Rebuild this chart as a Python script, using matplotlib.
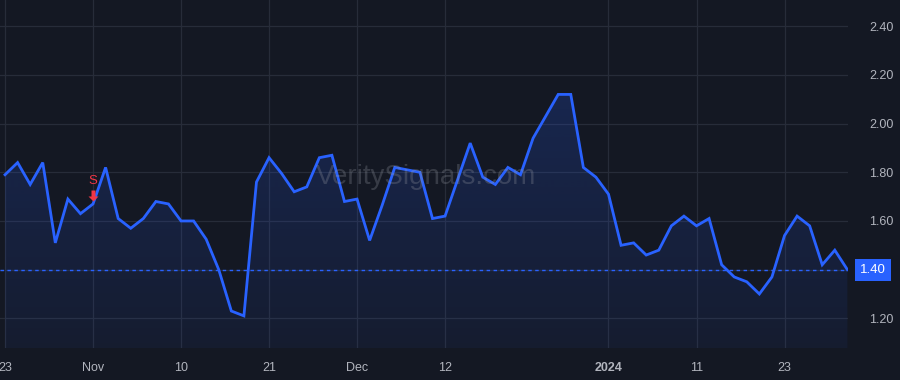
import numpy as np
import pandas as pd
import matplotlib
matplotlib.use("Agg")
import matplotlib.pyplot as plt
from matplotlib.patches import Polygon
from matplotlib.path import Path
from matplotlib import transforms

# ---- data ----
holidays = ["2023-11-23", "2023-12-25", "2024-01-01", "2024-01-15"]
dates = pd.bdate_range("2023-10-23", "2024-01-30", freq="C", holidays=holidays)

values = [1.79, 1.84, 1.75, 1.84, 1.51, 1.69, 1.63, 1.67, 1.82, 1.61,
          1.57, 1.61, 1.68, 1.67, 1.60, 1.60, 1.525, 1.40, 1.23, 1.21,
          1.76, 1.86, 1.795, 1.72, 1.74, 1.86, 1.87, 1.68, 1.69, 1.52,
          1.665, 1.82, 1.81, 1.80, 1.61, 1.62, 1.77, 1.92, 1.78, 1.75,
          1.82, 1.79, 1.94, 2.03, 2.12, 2.12, 1.82, 1.78, 1.71, 1.50,
          1.51, 1.46, 1.48, 1.58, 1.62, 1.58, 1.61, 1.42, 1.37, 1.35,
          1.30, 1.37, 1.54, 1.62, 1.58, 1.42, 1.48, 1.40]

tick_dates = ["2023-10-23", "2023-11-01", "2023-11-10", "2023-11-21", "2023-12-01",
              "2023-12-12", "2024-01-02", "2024-01-11", "2024-01-23"]
tick_labels = ["23", "Nov", "10", "21", "Dec", "12", "2024", "11", "23"]
y_ticks = [1.20, 1.40, 1.60, 1.80, 2.00, 2.20, 2.40]
last_price = 1.40
signal_date = "2023-11-01"
signal_label = "S"
watermark = "VeritySignals.com"

# ---- style ----
BG = "#141823"
GRID = "#272c39"
LINE = "#2962ff"
TXT = "#b2b5be"
RED = "#f23645"

plt.rcParams["font.family"] = ["Liberation Sans", "DejaVu Sans"]

fig = plt.figure(figsize=(9, 3.8), dpi=100, facecolor=BG)
ax = fig.add_axes([0, 32 / 380, 848 / 900, 348 / 380])
ax.set_facecolor(BG)

x = np.arange(len(values))
y = np.array(values)
pos = {d.strftime("%Y-%m-%d"): i for i, d in enumerate(dates)}

ax.set_xlim(-0.4, 67.05)
ax.set_ylim(1.078, 2.508)

# grid
for t in tick_dates:
    ax.axvline(pos[t], color=GRID, lw=0.9, zorder=0)
for v in y_ticks:
    ax.axhline(v, color=GRID, lw=0.9, zorder=0)

# gradient fill under line
ylo = ax.get_ylim()[0]
verts = [(x[0], ylo)] + list(zip(x, y)) + [(x[-1], ylo)]
poly = Polygon(verts, closed=True, facecolor="none", edgecolor="none")
ax.add_patch(poly)
grad = np.linspace(0.20, 0.06, 256).reshape(-1, 1)
rgba = np.zeros((256, 1, 4))
rgba[..., 0] = 41 / 255
rgba[..., 1] = 98 / 255
rgba[..., 2] = 255 / 255
rgba[..., 3] = grad
im = ax.imshow(rgba, extent=[x[0], x[-1], ylo, y.max()], origin="upper",
               aspect="auto", zorder=1, interpolation="bilinear")
im.set_clip_path(poly)

ax.plot(x, y, color=LINE, lw=2.0, zorder=3, solid_joinstyle="miter")

# last price dashed line
ax.axhline(last_price, color=LINE, lw=1.0, ls=(0, (2.5, 2.5)), zorder=2)

# watermark
ax.text(0.502, 0.49, watermark, transform=ax.transAxes, fontsize=20,
        color="#9598a1", alpha=0.28, ha="center", va="center", zorder=4)

# signal marker: down arrow (marker path anchored at the data point)
arrow_path = Path([(0, 3), (-5, 8), (-2, 8), (-2, 14), (2, 14), (2, 8), (5, 8), (0, 3)],
                  [Path.MOVETO] + [Path.LINETO] * 6 + [Path.CLOSEPOLY])
si = pos[signal_date]
sv = values[si]
ax.plot([si], [sv], marker=arrow_path, ms=28 * 0.72, color=RED, mew=0, ls="none", zorder=5)
ax.annotate(signal_label, xy=(si, sv), xytext=(0, 17), textcoords="offset pixels",
            color=RED, fontsize=9.5, ha="center", va="bottom", zorder=5)

# axes
for s in ax.spines.values():
    s.set_visible(False)
ax.set_xticks([pos[t] for t in tick_dates])
ax.set_xticklabels(tick_labels)
for lbl in ax.get_xticklabels():
    if lbl.get_text() == "2024":
        lbl.set_fontweight("bold")
ax.tick_params(axis="x", length=0, pad=10, labelsize=9, colors=TXT)
ax.yaxis.tick_right()
ax.set_yticks(y_ticks)
ax.set_yticklabels(["" if abs(v - last_price) < 1e-9 else f"{v:.2f}" for v in y_ticks])
ax.tick_params(axis="y", length=0, pad=15, labelsize=9, colors=TXT)

# price label box
tr = transforms.blended_transform_factory(ax.transAxes, ax.transData)
ax.text(1.0 + 25 / 848, last_price, f"{last_price:.2f}", transform=tr, ha="center",
        va="center", fontsize=9.5, color="white", zorder=6, clip_on=False,
        bbox=dict(boxstyle="square,pad=0.38", facecolor=LINE, edgecolor="none"))

fig.savefig("out.png", dpi=100, facecolor=BG)
